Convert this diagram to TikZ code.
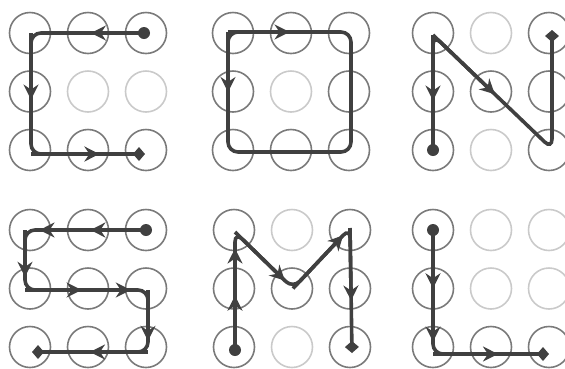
\documentclass[tikz,border=0pt]{standalone}
\usetikzlibrary{arrows.meta,calc}
\definecolor{ln}{HTML}{404040}
\definecolor{ringon}{HTML}{7A7A7A}
\definecolor{ringoff}{HTML}{CACACA}
\begin{document}
\begin{tikzpicture}[x=1pt,y=-1pt,
  ring/.style={circle, draw=ringon, line width=1.6pt, minimum size=41pt, inner sep=0pt},
  off-1-11/.style={draw=ringoff}, off-1-21/.style={draw=ringoff},
  off-2-11/.style={draw=ringoff},
  off-3-10/.style={draw=ringoff}, off-3-12/.style={draw=ringoff},
  off-5-10/.style={draw=ringoff}, off-5-12/.style={draw=ringoff},
  off-6-10/.style={draw=ringoff}, off-6-20/.style={draw=ringoff},
  off-6-11/.style={draw=ringoff}, off-6-21/.style={draw=ringoff},
  trace/.style={draw=ln, line width=3.6pt, rounded corners=10pt},
  tipline/.style={draw=ln, line width=3.6pt, -{Stealth[length=15pt,width=15pt,inset=5pt]}},
  endline/.style={draw=ln, line width=3.6pt, rounded corners=10pt, -{Turned Square[length=12pt,width=14pt]}},
  startdot/.style={circle, fill=ln, minimum size=12pt, inner sep=0pt}
]
\useasboundingbox (0,0) rectangle (565,368);
\clip (0,0) rectangle (565,368);
\foreach \pn/\ox/\oy in {1/30/33, 2/233/33, 3/433/33, 4/30/230, 5/234/230, 6/433/230} {
  \foreach \c in {0,1,2} {
    \foreach \r in {0,1,2} {
      \node[ring, off-\pn-\c\r/.try] (g\pn-\c\r) at ({\ox+\c*58},{\oy+\r*58.5}) {};
    }
  }
}
% trace points, slightly off the ring centres as in the reference
\foreach \n/\dx/\dy in {1-20/-2/0, 1-00/1/0, 1-02/1/4, 1-22/-1/4,
  2-00/-5/-1, 2-20/2/-1, 2-22/2/2, 2-02/-5/2,
  3-02/0/0, 3-00/0/2, 3-22/3/-1, 3-20/3/-3,
  4-20/0/0, 4-00/-5/0, 4-01/-5/1.5, 4-21/2/1.5, 4-22/2/5, 4-02/2/5,
  5-02/1/3, 5-00/1/2, 5-11/1/0, 5-20/0/-2, 5-22/2/6,
  6-00/0/0, 6-02/0/7, 6-22/0/7} {
  \coordinate (q\n) at ($(g\n.center)+(\dx,\dy)$);
}
% Panel 1
\draw[endline] (q1-20) -- (q1-00) -- (q1-02) -- (q1-22);
\node[startdot] (s1) at (q1-20) {};
\draw[tipline] (q1-20) -- ($(q1-20)!0.47!(q1-00)$);
\draw[tipline] (q1-00) -- ($(q1-00)!0.55!(q1-02)$);
\draw[tipline] (q1-02) -- ($(q1-02)!0.6!(q1-22)$);
% Panel 2
\draw[trace] (q2-00) -- (q2-20) -- (q2-22) -- (q2-02) -- cycle;
\draw[tipline] (q2-00) -- ($(q2-00)!0.5!(q2-20)$);
\draw[tipline] (q2-00) -- ($(q2-00)!0.5!(q2-02)$);
% Panel 3
\draw[endline] (q3-02) -- (q3-00) -- (q3-22) -- (q3-20);
\node[startdot] (s3) at (q3-02) {};
\draw[tipline] (q3-00) -- ($(q3-00)!0.57!(q3-02)$);
\draw[tipline] (q3-00) -- ($(q3-00)!0.52!(q3-22)$);
% Panel 4
\draw[endline] (q4-20) -- (q4-00) -- (q4-01) -- (q4-21) -- (q4-22) -- (q4-02);
\node[startdot] (s4) at (q4-20) {};
\draw[tipline] (q4-20) -- ($(q4-20)!0.46!(q4-00)$);
\draw[tipline] (q4-20) -- ($(q4-20)!0.88!(q4-00)$);
\draw[tipline] (q4-00) -- ($(q4-00)!0.78!(q4-01)$);
\draw[tipline] (q4-01) -- ($(q4-01)!0.46!(q4-21)$);
\draw[tipline] (q4-01) -- ($(q4-01)!0.86!(q4-21)$);
\draw[tipline] (q4-21) -- ($(q4-21)!0.82!(q4-22)$);
\draw[tipline] (q4-22) -- ($(q4-22)!0.5!(q4-02)$);
% Panel 5
\draw[endline] (q5-02) -- (q5-00) -- (q5-11) -- (q5-20) -- (q5-22);
\node[startdot] (s5) at (q5-02) {};
\draw[tipline] (q5-02) -- ($(q5-02)!0.46!(q5-00)$);
\draw[tipline] (q5-02) -- ($(q5-02)!0.86!(q5-00)$);
\draw[tipline] (q5-00) -- ($(q5-00)!0.86!(q5-11)$);
\draw[tipline] (q5-11) -- ($(q5-11)!0.88!(q5-20)$);
\draw[tipline] (q5-20) -- ($(q5-20)!0.58!(q5-22)$);
% Panel 6
\draw[endline] (q6-00) -- (q6-02) -- (q6-22);
\node[startdot] (s6) at (q6-00) {};
\draw[tipline] (q6-00) -- ($(q6-00)!0.47!(q6-02)$);
\draw[tipline] (q6-00) -- ($(q6-00)!0.9!(q6-02)$);
\draw[tipline] (q6-02) -- ($(q6-02)!0.56!(q6-22)$);
\end{tikzpicture}
\end{document}
